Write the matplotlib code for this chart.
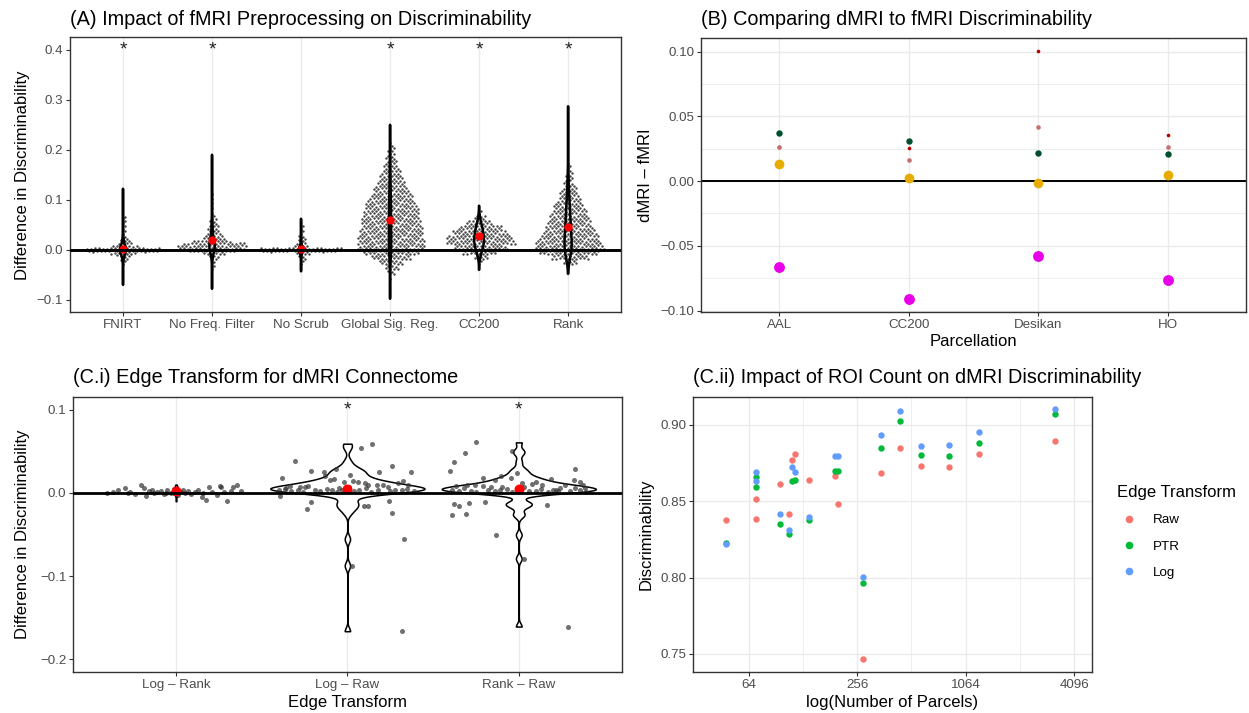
import numpy as np
import matplotlib
matplotlib.use('Agg')
import matplotlib.pyplot as plt
from matplotlib.lines import Line2D
from matplotlib.ticker import FuncFormatter

plt.rcParams['font.family'] = ['Liberation Sans', 'DejaVu Sans']

# ---------------- DATA ----------------
# Panel A: fMRI preprocessing differences (histogram of the swarm)
a_groups = ['FNIRT', 'No Freq. Filter', 'No Scrub', 'Global Sig. Reg.', 'CC200', 'Rank']
a_means = [0.002, 0.019, 0.002, 0.060, 0.027, 0.046]
a_signif = [True, True, False, True, True, True]
a_vmin = [-0.070, -0.078, -0.043, -0.098, -0.040, -0.048]
a_vmax = [0.122, 0.190, 0.062, 0.250, 0.088, 0.287]
a_bin_start = [-0.030, -0.040, -0.030, -0.060, -0.030, -0.040]
a_bin_width = [0.005, 0.005, 0.005, 0.01, 0.01, 0.01]
fnirt_counts = [1, 2, 2, 4, 7, 19, 19, 7, 4, 3, 2, 1, 1, 1, 1, 1, 1, 1, 1, 1]
nofreq_counts = [1, 1, 1, 1, 2, 3, 6, 12, 17, 18, 16, 10, 6, 5, 4, 3, 3, 3, 2, 2,
                 2, 1, 1, 0, 1, 0, 1, 0, 1, 0, 1]
noscrub_counts = [1, 1, 2, 2, 4, 20, 21, 4, 3, 2, 2, 2, 1, 1, 1, 1]
gsr_counts = [1, 4, 7, 12, 20, 28, 34, 34, 33, 32, 31, 30, 29, 28, 27, 25, 22, 19,
              17, 14, 12, 10, 8, 6, 5, 4, 3, 1]
cc200_counts = [2, 7, 17, 27, 35, 33, 28, 22, 13, 6, 2]
rank_counts = [1, 7, 19, 30, 35, 33, 30, 27, 24, 22, 20, 18, 16, 13, 11, 9, 7, 5, 4, 3, 2, 1]
a_counts = [fnirt_counts, nofreq_counts, noscrub_counts, gsr_counts, cc200_counts, rank_counts]

# Panel B: dMRI - fMRI
b_parc = ['AAL', 'CC200', 'Desikan', 'HO']
b_magenta = [-0.0666, -0.0914, -0.0581, -0.0766]
b_gold = [0.0135, 0.0020, -0.0013, 0.0048]
b_green = [0.0371, 0.0310, 0.0220, 0.0210]
b_darkred = [0.0261, 0.0256, 0.1006, 0.0353]
b_rosy = [0.0261, 0.0159, 0.0415, 0.0261]

# Panel C.i: edge transform differences (value, jitter offset)
ci_groups = ['Log \u2013 Rank', 'Log \u2013 Raw', 'Rank \u2013 Raw']
ci_means = [0.002, 0.005, 0.005]
ci_signif = [False, True, True]
logrank_vals = [0.000, 0.001, 0.003, 0.006, 0.001, -0.001, 0.010, 0.006, -0.004, 0.002,
                0.004, 0.000, 0.001, 0.002, -0.001, 0.003, 0.000, 0.005, -0.002, 0.001,
                0.000, 0.002, -0.001, 0.001, 0.003, -0.005, -0.008, 0.007, 0.001, 0.008,
                0.007, 0.001, -0.010, 0.007, 0.002, 0.010, 0.002, 0.000, 0.000, 0.000,
                0.003, -0.002]
logrank_jit = [-0.40, -0.37, -0.34, -0.296, -0.27, -0.24, -0.203, -0.185, -0.173, -0.16,
               -0.14, -0.13, -0.11, -0.09, -0.07, -0.05, -0.03, -0.01, 0.01, 0.03,
               0.05, 0.07, 0.09, 0.11, 0.13, 0.15, 0.173, 0.19, 0.21, 0.254,
               0.265, 0.28, 0.295, 0.334, 0.32, 0.353, 0.38, -0.06, 0.16, -0.28,
               0.04, 0.24]
lograw_vals = [0.0592, 0.0540, 0.0384, 0.0268, 0.0248, 0.0288, 0.0180, 0.0248, 0.0320, 0.0256,
               0.0148, 0.0124, 0.0100, 0.0076, 0.0100, 0.0100, 0.0124, 0.0132, 0.0140, 0.0132,
               0.0210, 0.0168, 0.0152, 0.0200, 0.0072, 0.0072, 0.0084, 0.0052, -0.0043, -0.0111,
               -0.0191, -0.0155, -0.0155, -0.0103, -0.0243, -0.0555, -0.0875, -0.1663,
               0.003, 0.006, 0.002, 0.004, 0.001, 0.008, 0.003, 0.002, 0.005, 0.004,
               0.001, 0.003, 0.007, 0.002, 0.004, 0.006, 0.001, 0.003, 0.009, 0.002,
               0.004, 0.003, 0.005, 0.002, 0.006]
lograw_jit = [0.145, 0.080, -0.305, -0.215, -0.134, -0.065, -0.382, 0.182, 0.260, 0.374,
              0.327, 0.298, 0.351, 0.238, 0.172, 0.123, 0.100, 0.061, 0.030, -0.021,
              0.015, -0.081, -0.100, -0.130, -0.246, -0.275, -0.334, -0.363, -0.392, -0.213,
              -0.233, 0.094, 0.120, 0.240, 0.261, 0.331, 0.028, 0.316,
              -0.40, -0.36, -0.33, -0.29, -0.26, -0.23, -0.19, -0.16, -0.12, -0.09,
              -0.06, -0.03, 0.01, 0.04, 0.07, 0.11, 0.14, 0.18, 0.21, 0.25,
              0.28, 0.32, 0.35, 0.39, -0.05]
rankraw_vals = [0.0608, 0.0484, 0.0376, 0.0265, 0.0499, 0.0288, 0.0160, 0.0137, 0.0092, 0.0064,
                0.0168, 0.0092, 0.0064, 0.0180, 0.0208, 0.0152, 0.0180, 0.0084, 0.0100, 0.0092,
                0.0076, 0.0072, 0.0244, 0.0120, 0.0108, 0.0132, -0.0139, -0.0159, -0.0123, -0.0264,
                -0.0259, -0.0112, -0.0504, -0.0148, -0.0790, -0.1607,
                0.003, 0.002, 0.006, 0.002, 0.001, 0.008, 0.003, 0.002, 0.003, 0.005,
                0.001, 0.004, 0.007, 0.002, 0.002, 0.005, 0.001, 0.003, 0.002, 0.009,
                0.002, 0.006, 0.003, 0.001, 0.004]
rankraw_jit = [-0.250, -0.312, -0.376, -0.399, -0.038, 0.326, 0.320, 0.355, 0.374, 0.385,
               0.188, 0.135, 0.242, -0.211, -0.106, -0.140, -0.046, -0.365, -0.256, -0.304,
               -0.164, -0.100, -0.012, 0.017, 0.075, 0.099, -0.378, -0.351, -0.291, -0.392,
               -0.308, -0.199, -0.135, 0.165, 0.028, 0.285,
               -0.39, -0.35, -0.32, -0.28, -0.25, -0.21, -0.18, -0.14, -0.11, -0.07,
               -0.04, 0.00, 0.03, 0.06, 0.10, 0.13, 0.17, 0.20, 0.23, 0.27,
               0.30, 0.33, 0.36, 0.39, 0.22]
ci_vals = [logrank_vals, lograw_vals, rankraw_vals]
ci_jits = [logrank_jit, lograw_jit, rankraw_jit]

# Panel C.ii: discriminability vs number of parcels
cii_parcels = [48, 70, 70, 95, 107, 111, 116, 138, 193, 200, 275, 348, 441, 579, 828, 1208, 3198]
cii_raw = [0.8376, 0.8512, 0.8381, 0.8610, 0.8416, 0.8771, 0.8808, 0.8640, 0.8662, 0.8479,
           0.7465, 0.8686, 0.8848, 0.8728, 0.8725, 0.8806, 0.8891]
cii_ptr = [0.8225, 0.8660, 0.8594, 0.8348, 0.8285, 0.8632, 0.8640, 0.8374, 0.8699, 0.8695,
           0.7964, 0.8850, 0.9022, 0.8804, 0.8793, 0.8878, 0.9070]
cii_log = [0.8219, 0.8688, 0.8634, 0.8416, 0.8309, 0.8725, 0.8692, 0.8396, 0.8795, 0.8795,
           0.8001, 0.8933, 0.9088, 0.8861, 0.8869, 0.8952, 0.9100]
cii_labels = ['Raw', 'PTR', 'Log']
cii_ticks = [64, 256, 1024, 4096]
cii_ticklabels = ['64', '256', '1064', '4096']

# ---------------- STYLE ----------------
W, H = 1249, 713
fig = plt.figure(figsize=(W / 100, H / 100), dpi=100)
TICK_C = '#4D4D4D'
GRID_C = '#EBEBEB'
FS_TITLE, FS_LAB, FS_TICK = 14.3, 12, 9.6


def rect(l, t, r, b):
    return [l / W, 1 - b / H, (r - l) / W, (b - t) / H]


def style_ax(ax):
    for s in ax.spines.values():
        s.set_color('#333333')
        s.set_linewidth(1.0)
    ax.tick_params(length=2.75, width=0.8, color='#333333', labelcolor=TICK_C,
                   labelsize=FS_TICK, pad=2.2)
    ax.set_axisbelow(True)


def title(ax, txt, base_px):
    l = ax.get_position().x0
    fig.text(l, 1 - base_px / H, txt, fontsize=FS_TITLE, ha='left', va='baseline')


def swarm(center, start, bw, counts, sp):
    """Hexagonal beeswarm layout of binned values."""
    xs, ys = [], []
    rows = max(1, int(round(bw / 0.005)))
    g = 0
    for i, n in enumerate(counts):
        lo = start + i * bw
        per = [n // rows + (1 if r < n % rows else 0) for r in range(rows)]
        for r, m in enumerate(per):
            yc = lo + (r + 0.5) * bw / rows
            half = 0.5 * (g % 2)
            slots = []
            j = 0
            while len(slots) < m:
                for s in ([j + half, -j - half] if (j + half) > 0 else [0.0]):
                    if len(slots) < m:
                        slots.append(s)
                j += 1
            for k, s in enumerate(slots):
                xs.append(center + s * sp)
                jit = (((k * 0.618034 + g * 0.37) % 1) - 0.5) * bw / rows * 0.5
                ys.append(yc + jit)
            g += 1
    return np.array(xs), np.array(ys)


# ---------------- PANEL A ----------------
axA = fig.add_axes(rect(69.6, 37.3, 621.5, 312.3))
style_ax(axA)
xa = np.arange(1, len(a_groups) + 1)
axA.set_xlim(0.4, len(a_groups) + 0.6)
axA.set_ylim(-0.125, 0.425)
px_per_cat = (621.5 - 69.6) / (len(a_groups) + 0.2)
sp = 4.0 / px_per_cat
a_vwidths = [0.07, 0.06, 0.05, 0.025, 0.11, 0.08]
for i, x in enumerate(xa):
    sx, sy = swarm(x, a_bin_start[i], a_bin_width[i], a_counts[i], sp)
    axA.scatter(sx, sy, s=3.0, color='#303030', alpha=0.9, linewidths=0, zorder=2)
    vdata = np.concatenate([sy, [a_vmin[i], a_vmax[i]]])
    vp = axA.violinplot([vdata], positions=[x], widths=a_vwidths[i], showextrema=False,
                        bw_method=0.3)
    for b in vp['bodies']:
        b.set_facecolor('none')
        b.set_edgecolor('black')
        b.set_linewidth(1.8)
        b.set_alpha(1)
        b.set_zorder(3)
    axA.plot([x], [a_means[i]], 'o', color='#FF0000', ms=6, mec='none', zorder=4)
    if a_signif[i]:
        axA.text(x, 0.4, '*', ha='center', va='center', fontsize=14, color='#222222')
axA.axhline(0, color='black', lw=2.1, zorder=5)
axA.set_xticks(xa)
axA.set_xticklabels(a_groups)
axA.set_yticks([-0.1, 0.0, 0.1, 0.2, 0.3, 0.4])
axA.yaxis.set_major_formatter(FuncFormatter(lambda v, p: f'{v:.1f}'.replace('-', '\u2212')))
axA.grid(axis='x', color=GRID_C, lw=1.0)
title(axA, '(A) Impact of fMRI Preprocessing on Discriminability', 25)
fig.text(22.7 / W, 1 - 174.8 / H, 'Difference in Discriminability', rotation=90,
         ha='center', va='center', fontsize=FS_LAB)

# ---------------- PANEL B ----------------
axB = fig.add_axes(rect(701.4, 37.7, 1245.8, 312.3))
style_ax(axB)
xb = np.arange(1, len(b_parc) + 1)
axB.set_xlim(0.4, len(b_parc) + 0.6)
axB.set_ylim(-0.1013, 0.1107)
axB.set_yticks([-0.10, -0.05, 0.0, 0.05, 0.10])
axB.set_yticks([-0.075, -0.025, 0.025, 0.075], minor=True)
axB.tick_params(which='minor', length=0)
axB.grid(which='major', color=GRID_C, lw=1.0)
axB.grid(which='minor', axis='y', color=GRID_C, lw=0.6)
axB.axhline(0, color='black', lw=1.4, zorder=2)
axB.plot(xb, b_magenta, 'o', ls='', color='#E800E8', ms=7.8, mec='none', zorder=3)
axB.plot(xb, b_gold, 'o', ls='', color='#E6AD00', ms=7.0, mec='none', zorder=3)
axB.plot(xb, b_green, 'o', ls='', color='#00502F', ms=4.6, mec='none', zorder=3)
axB.plot(xb, b_darkred, 'o', ls='', color='#B30000', ms=2.6, mec='none', zorder=3)
axB.plot(xb, b_rosy, 'o', ls='', color='#C47070', ms=3.3, mec='none', zorder=3)
axB.set_xticks(xb)
axB.set_xticklabels(b_parc)
axB.yaxis.set_major_formatter(FuncFormatter(lambda v, p: f'{v:.2f}'.replace('-', '\u2212')))
title(axB, '(B) Comparing dMRI to fMRI Discriminability', 25)
fig.text(646 / W, 1 - 175 / H, 'dMRI \u2013 fMRI', rotation=90, ha='center', va='center',
         fontsize=FS_LAB)
fig.text(973.6 / W, 1 - 342 / H, 'Parcellation', ha='center', va='center', fontsize=FS_LAB)

# ---------------- PANEL C.i ----------------
axC = fig.add_axes(rect(73.2, 397.3, 621.6, 671.7))
style_ax(axC)
xc = np.arange(1, len(ci_groups) + 1)
axC.set_xlim(0.4, len(ci_groups) + 0.6)
axC.set_ylim(-0.215, 0.115)
c_vwidths = [0.06, 0.9, 0.9]
for i, x in enumerate(xc):
    v = np.array(ci_vals[i])
    sd = v.std(ddof=1)
    iqr = np.subtract(*np.percentile(v, [75, 25]))
    bw = 1.3 * 0.9 * min(sd, iqr / 1.34) * len(v) ** -0.2
    vp = axC.violinplot([v], positions=[x], widths=c_vwidths[i], showextrema=False,
                        bw_method=bw / sd, points=400)
    for b in vp['bodies']:
        b.set_facecolor('white')
        b.set_edgecolor('black')
        b.set_linewidth(1.1)
        b.set_alpha(1)
        b.set_zorder(2)
    axC.scatter(x + np.array(ci_jits[i]), v, s=13, color='#333333', alpha=0.7,
                linewidths=0, zorder=3)
    axC.plot([x], [ci_means[i]], 'o', color='#FF0000', ms=7.2, mec='none', zorder=4)
    if ci_signif[i]:
        axC.text(x, 0.1, '*', ha='center', va='center', fontsize=14, color='#222222')
axC.axhline(0, color='black', lw=2.0, zorder=5)
axC.set_xticks(xc)
axC.set_xticklabels(ci_groups)
axC.set_yticks([-0.2, -0.1, 0.0, 0.1])
axC.yaxis.set_major_formatter(FuncFormatter(lambda v, p: f'{v:.1f}'.replace('-', '\u2212')))
axC.grid(axis='x', color=GRID_C, lw=1.0)
title(axC, '(C.i) Edge Transform for dMRI Connectome', 383.3)
fig.text(22.4 / W, 1 - 534.5 / H, 'Difference in Discriminability', rotation=90,
         ha='center', va='center', fontsize=FS_LAB)
fig.text(347.4 / W, 1 - 703 / H, 'Edge Transform', ha='center', va='center', fontsize=FS_LAB)

# ---------------- PANEL C.ii ----------------
axD = fig.add_axes(rect(693.4, 396.7, 1091.5, 671.7))
style_ax(axD)
axD.set_xscale('log', base=2)
axD.set_xlim(2 ** 4.98, 2 ** 12.32)
axD.set_ylim(0.7384, 0.9183)
cols = ['#F8766D', '#00BA38', '#619CFF']
for series, c in zip([cii_raw, cii_ptr, cii_log], cols):
    axD.plot(cii_parcels, series, 'o', ls='', color=c, ms=4.6, mec='none', zorder=3)
axD.set_xticks(cii_ticks)
axD.set_xticklabels(cii_ticklabels)
axD.set_xticks([128, 512, 2048], minor=True)
axD.set_xticklabels([], minor=True)
axD.tick_params(which='minor', length=0)
axD.set_yticks([0.75, 0.80, 0.85, 0.90])
axD.yaxis.set_major_formatter(FuncFormatter(lambda v, p: f'{v:.2f}'))
axD.grid(which='major', color=GRID_C, lw=1.0)
axD.grid(which='minor', axis='x', color=GRID_C, lw=0.6)
title(axD, '(C.ii) Impact of ROI Count on dMRI Discriminability', 383.3)
fig.text(646 / W, 1 - 534.2 / H, 'Discriminability', rotation=90, ha='center', va='center',
         fontsize=FS_LAB)
fig.text(892.5 / W, 1 - 703 / H, 'log(Number of Parcels)', ha='center', va='center',
         fontsize=FS_LAB)
handles = [Line2D([], [], marker='o', ls='', color=c, ms=5.5, mec='none') for c in cols]
leg = fig.legend(handles, cii_labels, title='Edge Transform', loc='upper left',
                 bbox_to_anchor=(1117 / W, 1 - 485 / H), frameon=False, fontsize=FS_TICK,
                 title_fontsize=FS_LAB, borderpad=0, borderaxespad=0, handlelength=1.8,
                 handletextpad=0.9, labelspacing=1.05)
leg._legend_box.align = 'left'

fig.savefig('out.png', dpi=100)
